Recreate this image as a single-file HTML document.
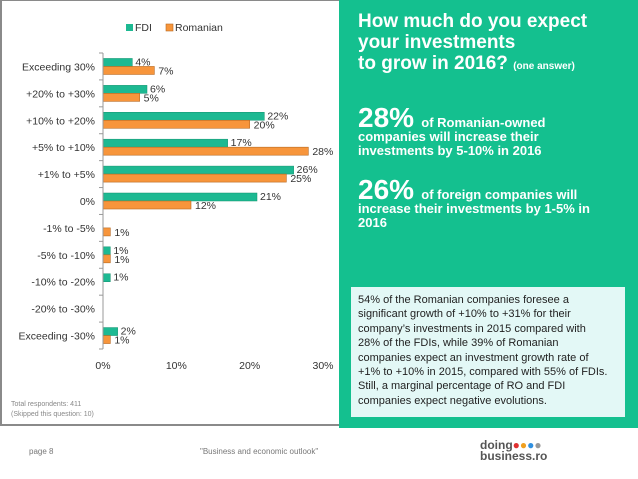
<!DOCTYPE html>
<html><head><meta charset="utf-8"><style>
body{margin:0;width:638px;height:479px;background:#fff;position:relative;overflow:hidden;font-family:"Liberation Sans",sans-serif}
.abs{position:absolute}
</style></head><body>
<div class="abs" style="left:0;top:0;width:339px;height:426px;border-left:2px solid #8a8a8a;border-top:1px solid #8a8a8a;border-bottom:2px solid #8a8a8a;box-sizing:border-box"></div>
<svg class="abs" style="left:0;top:0" width="340" height="426" id="chart"></svg>
<div class="abs" style="left:11px;top:400px;font-size:7px;color:#888;line-height:10px">Total respondents: 411<br>(Skipped this question: 10)</div>
<div class="abs" style="left:339px;top:0;width:299px;height:428px;background:#14c08f"></div>
<div class="abs" style="left:358px;top:11px;color:#fff;font-weight:bold;font-size:19px;line-height:21px">How much do you expect<br>your investments<br>to grow in 2016? <span style="font-size:10px">(one answer)</span></div>
<div class="abs" style="left:358px;top:111px;color:#fff;font-weight:bold;font-size:13px;line-height:14px;width:270px"><span style="font-size:28px">28%</span>&nbsp; of Romanian-owned<br>companies will increase their<br>investments by 5-10% in 2016</div>
<div class="abs" style="left:358px;top:183px;color:#fff;font-weight:bold;font-size:13px;line-height:14px;width:270px"><span style="font-size:28px">26%</span>&nbsp; of foreign companies will<br>increase their investments by 1-5% in<br>2016</div>
<div class="abs" style="left:351px;top:287px;width:274px;height:130px;background:#e3f8f6;box-sizing:border-box;padding:6px 2px 0 7px;font-size:11px;line-height:14.4px;color:#222;white-space:nowrap">54% of the Romanian companies foresee a<br>significant growth of +10% to +31% for their<br>company’s investments in 2015 compared with<br>28% of the FDIs, while 39% of Romanian<br>companies expect an investment growth rate of<br>+1% to +10% in 2015, compared with 55% of FDIs.<br>Still, a marginal percentage of RO and FDI<br>companies expect negative evolutions.</div>
<div class="abs" style="left:29px;top:447px;font-size:8px;color:#777">page 8</div>
<div class="abs" style="left:200px;top:447px;font-size:8px;color:#777">"Business and economic outlook"</div>
<div class="abs" style="left:480px;top:440px;font-size:12px;font-weight:bold;color:#555;line-height:11px">doing<span style="color:#e03030">●</span><span style="color:#f0a020">●</span><span style="color:#3090e0">●</span><span style="color:#999">●</span><br>business.ro</div>
<script>
const categories=["Exceeding 30%","+20% to +30%","+10% to +20%","+5% to +10%","+1% to +5%","0%","-1% to -5%","-5% to -10%","-10% to -20%","-20% to -30%","Exceeding -30%"];
const fdiValues=[4,6,22,17,26,21,0,1,1,0,2];
const romanianValues=[7,5,20,28,25,12,1,1,0,0,1];
const tickValues=[0,10,20,30];
const svg=document.getElementById('chart');const NS='http://www.w3.org/2000/svg';
const x0=103,x1=323,plotTop=53,plotBottom=349,maxV=30;
const xs=v=>x0+(v/maxV)*(x1-x0);
const band=(plotBottom-plotTop)/categories.length;
function mk(t,a,parent){const e=document.createElementNS(NS,t);for(const k in a)e.setAttribute(k,a[k]);(parent||svg).appendChild(e);return e;}
let l1=mk('rect',{x:126,y:24,width:7,height:7,fill:'#1db992'});


let lt1=mk('text',{x:135,y:31,'font-size':10.5,fill:'#333'});lt1.textContent='FDI';


let l2=mk('rect',{x:166,y:24,width:7,height:7,fill:'#f7953b',stroke:'#b86a22','stroke-width':0.6});


let lt2=mk('text',{x:175,y:31,'font-size':10.5,fill:'#333'});lt2.textContent='Romanian';


categories.forEach((c,i)=>{
  const y=plotTop+i*band, cy=y+band/2;
  const t=mk('text',{x:95,y:cy+4,'font-size':10.5,fill:'#333','text-anchor':'end'});t.textContent=c;
  
  
  const tk=mk('line',{x1:99,x2:x0,y1:y,y2:y,stroke:'#999'});
  
  
  const f=fdiValues[i],r=romanianValues[i];
  if(f>0){const b=mk('rect',{x:x0,y:cy-8,width:xs(f)-x0,height:8,fill:'#1db992',stroke:'#13926f','stroke-width':0.5});
    
    
    const lb=mk('text',{x:xs(f)+3,y:cy-1,'font-size':10.5,fill:'#333'});lb.textContent=f+'%';
    
    }
  if(r>0){const b=mk('rect',{x:x0,y:cy,width:xs(r)-x0,height:8,fill:'#f7953b',stroke:'#b86a22','stroke-width':0.6});
    
    
    const lb=mk('text',{x:xs(r)+4,y:cy+8,'font-size':10.5,fill:'#333'});lb.textContent=r+'%';
    
    }
});
const bt=mk('line',{x1:99,x2:x0,y1:plotBottom,y2:plotBottom,stroke:'#999'});


const ax=mk('line',{x1:x0,x2:x0,y1:plotTop,y2:plotBottom,stroke:'#999'});


tickValues.forEach(v=>{const t=mk('text',{x:xs(v),y:369,'font-size':10.5,fill:'#333','text-anchor':'middle'});t.textContent=v+'%';
  
  });
</script>
</body></html>
